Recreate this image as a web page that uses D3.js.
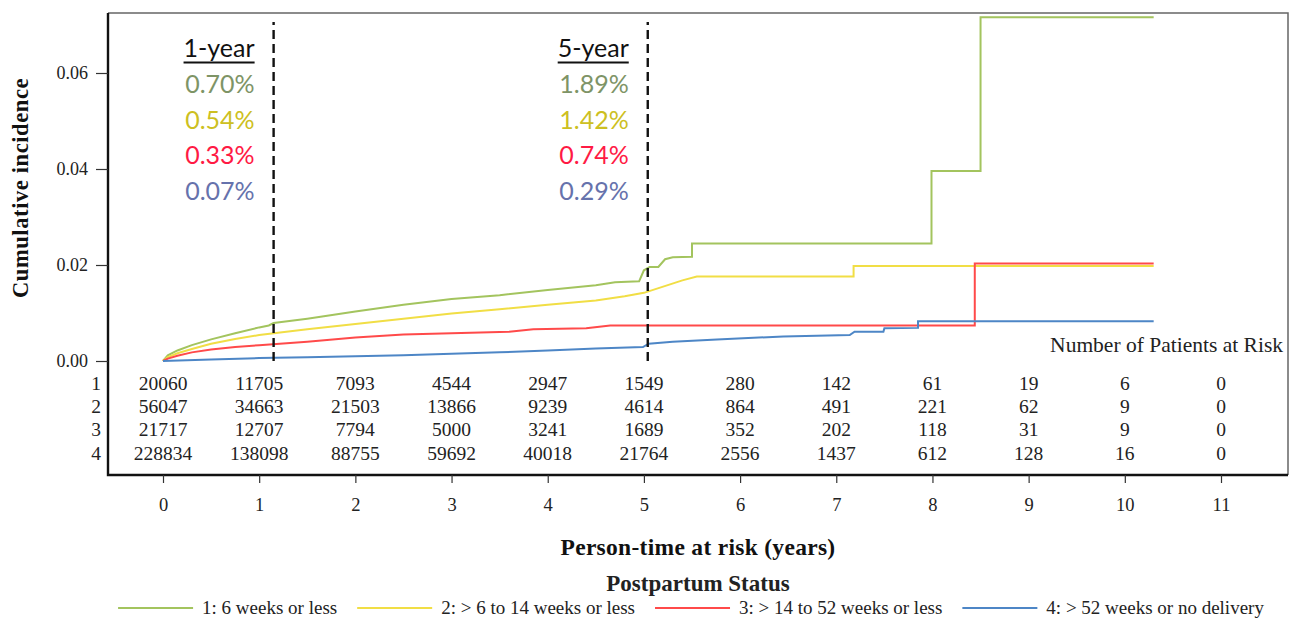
<!DOCTYPE html>
<html>
<head>
<meta charset="utf-8">
<script src="https://cdn.jsdelivr.net/npm/d3@7"></script>
<style>
  html, body { margin: 0; padding: 0; background: #fff; }
  svg { display: block; }
  .serif { font-family: "Liberation Serif", "Times New Roman", serif; }
</style>
</head>
<body>
<svg id="chart" width="1290" height="623"></svg>
<script>
// Cumulative incidence by postpartum status: [years, cumulative incidence]
const groupNames = ["1: 6 weeks or less", "2: > 6 to 14 weeks or less",
                    "3: > 14 to 52 weeks or less", "4: > 52 weeks or no delivery"];
const groupColors = ["#a3c45e", "#f1de45", "#ff4a4a", "#4d86c6"];
const labelColors = ["#7e9466", "#cdbf22", "#ff1a44", "#6672ac"];

const curve1 = [[0,0],[0.05,0.0012],[0.15,0.0022],[0.3,0.0033],[0.5,0.0045],[0.75,0.0058],
  [1,0.0070],[1.1,0.0074],[1.15,0.0079],[1.5,0.0088],[2,0.0103],[2.5,0.0117],[3,0.0129],
  [3.5,0.0137],[4,0.0148],[4.5,0.0158],[4.7,0.0164],[4.95,0.0166],[5.0,0.0189],[5.06,0.0196],
  [5.15,0.0196],[5.22,0.0212],[5.3,0.0216],[5.5,0.0217],[5.5,0.0245],[7.99,0.0245],
  [7.99,0.0396],[8.5,0.0396],[8.5,0.0716],[10.3,0.0716]];
const curve2 = [[0,0],[0.05,0.0008],[0.15,0.0016],[0.3,0.0025],[0.5,0.0036],[0.75,0.0046],
  [1,0.0054],[1.5,0.0066],[2,0.0077],[2.5,0.0088],[3,0.0099],[3.5,0.0108],[4,0.0117],
  [4.5,0.0126],[4.8,0.0135],[5,0.0142],[5.2,0.0155],[5.4,0.0168],[5.55,0.0176],[7.18,0.0176],
  [7.18,0.0198],[10.3,0.0198]];
const curve3 = [[0,0],[0.05,0.0005],[0.15,0.0011],[0.3,0.0018],[0.5,0.0024],[0.75,0.0029],
  [1,0.0033],[1.5,0.0040],[2,0.0049],[2.5,0.0055],[3,0.0058],[3.6,0.0061],[3.85,0.0066],
  [4.4,0.0068],[4.65,0.0074],[8.44,0.0074],[8.44,0.0203],[10.3,0.0203]];
const curve4 = [[0,0],[0.5,0.0003],[1,0.0006],[1.5,0.0008],[2,0.0010],[2.5,0.0012],[3,0.0015],
  [3.5,0.0018],[4,0.0022],[4.5,0.0026],[4.99,0.0029],[5.05,0.0036],[5.3,0.0040],[5.76,0.0045],
  [6.45,0.0051],[7.14,0.0054],[7.19,0.0061],[7.49,0.0061],[7.5,0.0068],[7.85,0.0069],
  [7.85,0.0083],[10.3,0.0083]];
const curves = [curve1, curve2, curve3, curve4];

// Reference times and the incidence quoted at each
const markTimes = [1.15, 5.04];
const markTitles = ["1-year", "5-year"];
const oneYearPct = ["0.70%", "0.54%", "0.33%", "0.07%"];
const fiveYearPct = ["1.89%", "1.42%", "0.74%", "0.29%"];

// Number at risk table
const riskTimes = [0,1,2,3,4,5,6,7,8,9,10,11];
const risk1 = [20060,11705,7093,4544,2947,1549,280,142,61,19,6,0];
const risk2 = [56047,34663,21503,13866,9239,4614,864,491,221,62,9,0];
const risk3 = [21717,12707,7794,5000,3241,1689,352,202,118,31,9,0];
const risk4 = [228834,138098,88755,59692,40018,21764,2556,1437,612,128,16,0];
const riskRows = [risk1, risk2, risk3, risk4];
const rowLabels = ["1","2","3","4"];

const yTicks = [0, 0.02, 0.04, 0.06];

// ---- layout ----
const svg = d3.select("#chart");
const serif = "Liberation Serif, Times New Roman, serif";
const frame = { left: 108, right: 1288, top: 13, bottom: 475 };
const x = d3.scaleLinear().domain([0, 11]).range([163, 1221]);
const y = d3.scaleLinear().domain([0, 0.06]).range([361, 73]);
const rowY = d3.scalePoint().domain(rowLabels).range([383, 453]);

// frame: grey top/right, black axes on left/bottom
svg.append("path")
  .attr("d", `M${frame.left},${frame.top}H${frame.right}V${frame.bottom}`)
  .attr("fill", "none").attr("stroke", "#666").attr("stroke-width", 1.5);
svg.append("path")
  .attr("d", `M${frame.left},${frame.top}V${frame.bottom}H${frame.right}`)
  .attr("fill", "none").attr("stroke", "#111").attr("stroke-width", 2.4);

// y axis
const yAxis = svg.append("g")
  .attr("transform", `translate(${frame.left},0)`)
  .call(d3.axisLeft(y).tickValues(yTicks).tickFormat(d3.format(".2f")).tickSize(12).tickPadding(8));
yAxis.select(".domain").remove();
yAxis.selectAll("line").attr("stroke", "#333").attr("stroke-width", 1.2);
yAxis.selectAll("text").attr("font-size", 18).attr("fill", "#222").attr("font-family", serif);

// x axis
const xAxis = svg.append("g")
  .attr("transform", `translate(0,${frame.bottom})`)
  .call(d3.axisBottom(x).tickValues(riskTimes).tickSize(8).tickPadding(15));
xAxis.select(".domain").remove();
xAxis.selectAll("line").attr("stroke", "#333").attr("stroke-width", 1.2);
xAxis.selectAll("text").attr("font-size", 18.5).attr("fill", "#222").attr("font-family", serif);

// axis titles
svg.append("text")
  .attr("transform", `translate(28,188) rotate(-90)`)
  .attr("text-anchor", "middle").attr("font-weight", "bold").attr("font-size", 22.5)
  .attr("font-family", serif).attr("letter-spacing", 0.6).attr("fill", "#111")
  .text("Cumulative incidence");
svg.append("text")
  .attr("x", 698).attr("y", 555)
  .attr("text-anchor", "middle").attr("font-weight", "bold").attr("font-size", 23.5)
  .attr("font-family", serif).attr("letter-spacing", 0.3).attr("fill", "#111")
  .text("Person-time at risk (years)");

// incidence curves
const line = d3.line().x(d => x(d[0])).y(d => y(d[1]));
svg.append("g").selectAll("path")
  .data(curves)
  .join("path")
  .attr("d", line)
  .attr("fill", "none")
  .attr("stroke", (d, i) => groupColors[i])
  .attr("stroke-width", 2);

// reference dashed lines and quoted values
const pctSets = [oneYearPct, fiveYearPct];
markTimes.forEach((t, k) => {
  const xm = x(t);
  svg.append("line")
    .attr("x1", xm).attr("x2", xm)
    .attr("y1", y(0)).attr("y2", frame.top + 9)
    .attr("stroke", "#111").attr("stroke-width", 2.4)
    .attr("stroke-dasharray", "9,5");
  const g = svg.append("g").attr("font-family", "Lato, 'Open Sans', sans-serif")
    .attr("font-size", 25).attr("text-anchor", "end");
  const title = g.append("text").attr("x", xm - 19).attr("y", 57)
    .attr("fill", "#111").text(markTitles[k]);
  const bb = title.node().getBBox();
  g.append("line")
    .attr("x1", bb.x).attr("x2", bb.x + bb.width)
    .attr("y1", 62.5).attr("y2", 62.5)
    .attr("stroke", "#111").attr("stroke-width", 2);
  g.selectAll("text.pct")
    .data(pctSets[k])
    .join("text").attr("class", "pct")
    .attr("x", xm - 19)
    .attr("y", (d, i) => 93 + i * 35.7)
    .attr("fill", (d, i) => labelColors[i])
    .text(d => d);
});

// number at risk
svg.append("text")
  .attr("x", 1283).attr("y", 352).attr("text-anchor", "end")
  .attr("font-family", serif).attr("font-size", 21.5).attr("fill", "#222")
  .text("Number of Patients at Risk");

const table = svg.append("g").attr("font-family", serif).attr("font-size", 19.5).attr("fill", "#222");
riskRows.forEach((row, r) => {
  const yy = rowY(rowLabels[r]);
  table.append("text").attr("x", 101).attr("y", yy).attr("dy", "0.35em")
    .attr("text-anchor", "end").text(rowLabels[r]);
  table.selectAll(null)
    .data(row)
    .join("text")
    .attr("x", (d, i) => x(riskTimes[i]))
    .attr("y", yy).attr("dy", "0.35em")
    .attr("text-anchor", "middle")
    .text(d => d);
});

// legend
svg.append("text")
  .attr("x", 698).attr("y", 591).attr("text-anchor", "middle")
  .attr("font-family", serif).attr("font-weight", "bold").attr("font-size", 23).attr("fill", "#222")
  .text("Postpartum Status");

const legend = svg.append("g").attr("font-family", serif).attr("font-size", 19).attr("fill", "#222");
let cursor = 0;
groupNames.forEach((name, i) => {
  legend.append("line")
    .attr("x1", cursor).attr("x2", cursor + 75)
    .attr("y1", 608).attr("y2", 608)
    .attr("stroke", groupColors[i]).attr("stroke-width", 2);
  const t = legend.append("text").attr("x", cursor + 84).attr("y", 614).text(name);
  cursor += 84 + t.node().getComputedTextLength() + 20;
});
const legendWidth = cursor - 20;
legend.attr("transform", `translate(${691 - legendWidth / 2},0)`);
</script>
</body>
</html>
